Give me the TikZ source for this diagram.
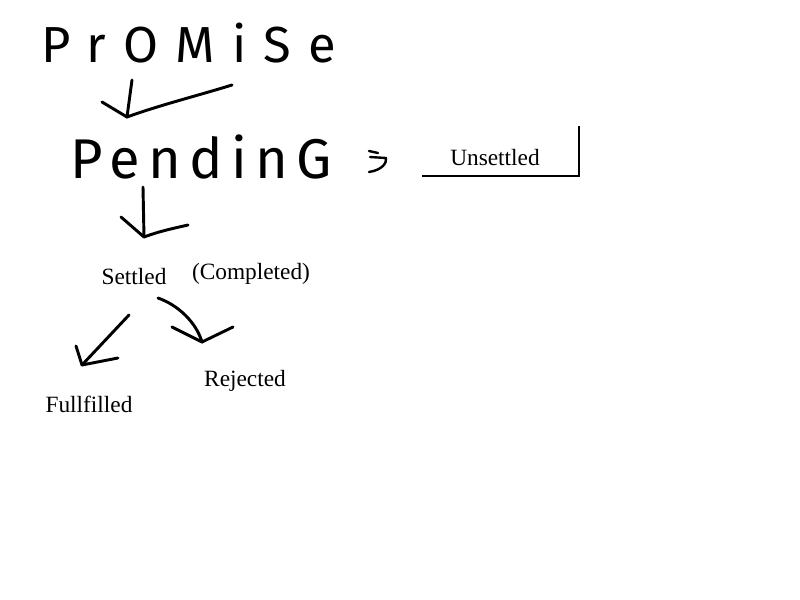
\documentclass[tikz,border=0pt]{standalone}
\usepackage{fontspec}
\setmainfont{Liberation Serif}
\newfontfamily\handA[LetterSpace=34]{Fira Sans}
\newfontfamily\handB[LetterSpace=15]{Fira Sans}
\begin{document}
\begin{tikzpicture}[x=0.75pt,y=-0.75pt,
  pen/.style={line width=2.2pt, line cap=round, line join=round},
  thinpen/.style={line width=1.8pt, line cap=round, line join=round},
  lbl/.style={font=\fontsize{17.5pt}{20pt}\selectfont, inner sep=0pt, anchor=base},
  hw/.style={inner sep=0pt, anchor=base west}]
\fill[white] (0,0) rectangle (800,600);
\useasboundingbox (0,0) rectangle (800,600);

% handwritten words
\node[hw, font=\handA\fontsize{38pt}{40pt}\selectfont] (promise) at (41,62) {PrOMiSe};
\node[hw, font=\handB\fontsize{42pt}{45pt}\selectfont] (pending) at (70,178) {PendinG};

% printed labels
\node[lbl] (unsettled) at (495,165) {Unsettled};
\node[lbl] (settled) at (134,284) {Settled};
\node[lbl] (completed) at (251,279) {(Completed)};
\node[lbl] (rejected) at (245,386) {Rejected};
\node[lbl] (fullfilled) at (89,412) {Fullfilled};

% frame lines around Unsettled
\coordinate (u1) at (422,176);
\coordinate (u2) at (579,176);
\coordinate (u3) at (579,126);
\draw[line width=0.9pt] (u1) -- (u2) -- (u3);

% "=>" mark
\coordinate (g1) at (369,151);
\coordinate (g2) at (378,153);
\coordinate (g3) at (370,157);
\coordinate (g4) at (386,158);
\coordinate (g5) at (369,172);
\draw[thinpen] (g1) -- (g2);
\draw[thinpen] (g3) -- (g4) .. controls (387,163) and (382,170) .. (g5);

% arrow promise -> pending
\coordinate (a1s) at (132,80);
\coordinate (a1t) at (127,117);
\coordinate (a1l) at (102,102);
\coordinate (a1r) at (232,85);
\draw[pen] (a1s) -- (a1t);
\draw[pen] (a1l) -- (a1t) .. controls (160,105) and (200,95) .. (a1r);

% arrow pending -> settled
\coordinate (a2s) at (143,187);
\coordinate (a2t) at (144,237);
\coordinate (a2l) at (121,217);
\coordinate (a2r) at (188,225);
\draw[pen] (a2s) -- (a2t);
\draw[pen] (a2l) -- (a2t) .. controls (160,231) and (175,228) .. (a2r);

% arrow settled -> fullfilled
\coordinate (a3s) at (129,315);
\coordinate (a3t) at (82,365);
\coordinate (a3l) at (76,346);
\coordinate (a3r) at (118,358);
\draw[pen] (a3s) -- (a3t);
\draw[pen] (a3l) -- (a3t) -- (a3r);

% arrow settled -> rejected
\coordinate (a4s) at (158,298);
\coordinate (a4t) at (202,342);
\coordinate (a4l) at (172,327);
\coordinate (a4r) at (233,327);
\draw[pen] (a4s) .. controls (178,305) and (196,322) .. (a4t);
\draw[pen] (a4l) -- (a4t) -- (a4r);
\end{tikzpicture}
\end{document}
